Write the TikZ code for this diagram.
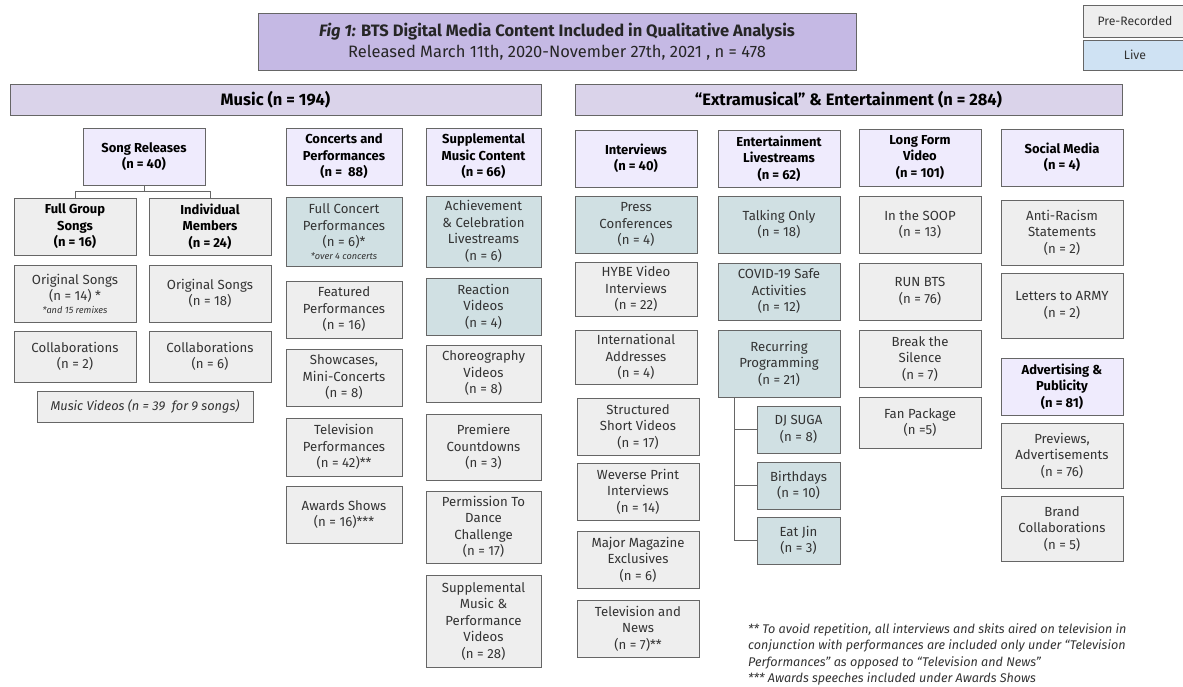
\documentclass[tikz,border=0pt]{standalone}
\usepackage{fontspec}
\setmainfont{Fira Sans}
\usepackage{tikz}
\usetikzlibrary{positioning}

\definecolor{boxline}{HTML}{666666}
\definecolor{txt}{HTML}{333333}
\definecolor{ttlfill}{HTML}{C5B9E4}
\definecolor{barfill}{HTML}{DAD3EA}
\definecolor{hdrfill}{HTML}{EFEBFD}
\definecolor{recfill}{HTML}{EEEEEE}
\definecolor{livefill}{HTML}{D0E0E3}
\definecolor{legfill}{HTML}{CFE2F3}

\tikzset{
  wh/.style 2 args={minimum width=#1, minimum height=#2},
  box/.style={draw=boxline, line width=0.9pt, align=center, inner sep=1pt,
    text=txt, font=\fontsize{13.2}{16.5}\selectfont},
  rec/.style={box, fill=recfill},
  live/.style={box, fill=livefill},
  hdr/.style={box, fill=hdrfill, text=black, font=\bfseries\fontsize{13}{16.5}\selectfont},
  bar/.style={box, fill=barfill, text=black, font=\bfseries\fontsize{16.5}{18}\selectfont},
  ttl/.style={box, fill=ttlfill, text=black!85, font=\fontsize{16.5}{21}\selectfont},
  link/.style={draw=boxline, line width=0.9pt},
}
\newcommand{\note}[1]{\\[-4pt]{\itshape\fontsize{9.2}{10}\selectfont #1}}

\begin{document}
\begin{tikzpicture}[x=1pt,y=-1pt]
  \useasboundingbox (0,0) rectangle (1183,686);

  % title and legend
  \node[ttl, wh={598}{57}] (title) at (557,41.5)
    {{\bfseries\textit{Fig 1:} BTS Digital Media Content Included in Qualitative Analysis}\\
     Released March 11th, 2020-November 27th, 2021 , n = 478};
  \node[rec, wh={104}{32}, font=\fontsize{12.2}{14}\selectfont] (prerec) at (1135,21) {Pre-Recorded};
  \node[box, fill=legfill, wh={104}{30}, font=\fontsize{12.2}{14}\selectfont] (legLive) at (1135,55) {Live};

  \node[bar, wh={531}{31}] (music) at (275.5,99.5) {Music (n = 194)};
  \node[bar, wh={547}{31}] (extra) at (848.5,99.5) {``Extramusical'' \& Entertainment (n = 284)};

  % song releases
  \node[hdr, wh={122}{57}] (songs) at (144,156.5) {Song Releases\\(n = 40)};
  \node[rec, wh={122}{57}, text=black, font=\bfseries\fontsize{13}{16.5}\selectfont] (fullgrp) at (75,226.5) {Full Group\\Songs\\(n = 16)};
  \node[rec, wh={122}{57}, text=black, font=\bfseries\fontsize{13}{16.5}\selectfont] (indiv) at (210,226.5) {Individual\\Members\\(n = 24)};
  \node[rec, wh={122}{57}] (origA) at (75,293.5) {Original Songs\\(n = 14) *\note{*and 15 remixes}};
  \node[rec, wh={122}{57}] (origB) at (210,293.5) {Original Songs\\(n = 18)};
  \node[rec, wh={122}{51}] (collabA) at (75,356.5) {Collaborations\\(n = 2)};
  \node[rec, wh={122}{51}] (collabB) at (210,356.5) {Collaborations\\(n = 6)};
  \node[rec, wh={216}{31}, font=\itshape\fontsize{12.8}{16}\selectfont] (mvids) at (145,406.5) {Music Videos (n = 39~ for 9 songs)};

  \draw[link] (songs.south) -- ++(0,6) coordinate (songsJ);
  \draw[link] (fullgrp.north) |- (songsJ) -| (indiv.north);

  % concerts
  \node[hdr, wh={116}{57}] (concerts) at (344,156.5) {Concerts and\\Performances\\(n = ~88)};
  \node[live, wh={116}{69}] (fullconc) at (344,231.5) {Full Concert\\Performances\\(n = 6)*\note{*over 4 concerts}};
  \node[rec, wh={116}{57}] (featured) at (344,309.5) {Featured\\Performances\\(n = 16)};
  \node[rec, wh={116}{57}] (showcase) at (344,377.5) {Showcases,\\Mini-Concerts\\(n = 8)};
  \node[rec, wh={116}{58}] (tvperf) at (344,447) {Television\\Performances\\(n = 42)**};
  \node[rec, wh={116}{57}] (awards) at (344,514.5) {Awards Shows\\(n = 16)***};

  % supplemental
  \node[hdr, wh={115}{57}] (supp) at (483.5,156.5) {Supplemental\\Music Content\\(n = 66)};
  \node[live, wh={115}{71}] (achieve) at (483.5,231.5) {Achievement\\\& Celebration\\Livestreams\\(n = 6)};
  \node[live, wh={115}{57}] (reaction) at (483.5,306.5) {Reaction\\Videos\\(n = 4)};
  \node[rec, wh={115}{57}] (choreo) at (483.5,373.5) {Choreography\\Videos\\(n = 8)};
  \node[rec, wh={115}{66}] (premiere) at (483.5,447) {Premiere\\Countdowns\\(n = 3)};
  \node[rec, wh={115}{72}] (ptd) at (483.5,527) {Permission To\\Dance\\Challenge\\(n = 17)};
  \node[rec, wh={115}{92}] (suppvid) at (483.5,621) {Supplemental\\Music \&\\Performance\\Videos\\(n = 28)};

  % interviews
  \node[hdr, wh={122}{57}] (interviews) at (636,158.5) {Interviews\\(n = 40)};
  \node[live, wh={122}{57}] (press) at (636,224.5) {Press\\Conferences\\(n = 4)};
  \node[rec, wh={122}{54}] (hybe) at (636,289) {HYBE Video\\Interviews\\(n = 22)};
  \node[rec, wh={122}{54}] (intl) at (636,357) {International\\Addresses\\(n = 4)};
  \node[rec, wh={122}{57}] (short) at (638,426.5) {Structured\\Short Videos\\(n = 17)};
  \node[rec, wh={122}{57}] (weverse) at (638,491.5) {Weverse Print\\Interviews\\(n = 14)};
  \node[rec, wh={122}{57}] (magazine) at (638,559.5) {Major Magazine\\Exclusives\\(n = 6)};
  \node[rec, wh={122}{57}] (tvnews) at (638,628.5) {Television and\\News\\(n = 7)**};

  % livestreams
  \node[hdr, wh={122}{57}] (ent) at (779,158.5) {Entertainment\\Livestreams\\(n = 62)};
  \node[live, wh={122}{57}] (talking) at (779,224.5) {Talking Only\\(n = 18)};
  \node[live, wh={122}{57}] (covid) at (779,291.5) {COVID-19 Safe\\Activities\\(n = 12)};
  \node[live, wh={122}{67}] (recur) at (779,363.5) {Recurring\\Programming\\(n = 21)};
  \node[live, wh={83}{47}] (djsuga) at (798.5,429.5) {DJ SUGA\\(n = 8)};
  \node[live, wh={83}{47}] (bdays) at (798.5,485.5) {Birthdays\\(n = 10)};
  \node[live, wh={83}{47}] (eatjin) at (798.5,540.5) {Eat Jin\\(n = 3)};

  \draw[link] (djsuga.west) -| ([xshift=17pt]recur.south west);
  \draw[link] (bdays.west) -| ([xshift=17pt]recur.south west);
  \draw[link] (eatjin.west) -| ([xshift=17pt]recur.south west);

  % long form
  \node[hdr, wh={122}{57}] (longform) at (920,157.5) {Long Form\\Video\\(n = 101)};
  \node[rec, wh={122}{57}] (soop) at (920,224.5) {In the SOOP\\(n = 13)};
  \node[rec, wh={122}{57}] (runbts) at (920,291.5) {RUN BTS\\(n = 76)};
  \node[rec, wh={122}{57}] (silence) at (920,358.5) {Break the\\Silence\\(n = 7)};
  \node[rec, wh={122}{51}] (fanpack) at (920,422.5) {Fan Package\\(n =5)};

  % social media, advertising
  \node[hdr, wh={122}{57}] (social) at (1062,157.5) {Social Media\\(n = 4)};
  \node[rec, wh={122}{65}] (antiracism) at (1062,232.5) {Anti-Racism\\Statements\\(n = 2)};
  \node[rec, wh={122}{65}] (letters) at (1062,305.5) {Letters to ARMY\\(n = 2)};
  \node[hdr, wh={122}{57}] (advert) at (1062,386.5) {Advertising \&\\Publicity\\(n = 81)};
  \node[rec, wh={122}{65}] (previews) at (1062,455.5) {Previews,\\Advertisements\\(n = 76)};
  \node[rec, wh={122}{65}] (brand) at (1062,528.5) {Brand\\Collaborations\\(n = 5)};

  % footnotes
  \node[anchor=north west, align=left, inner sep=0pt, text=txt,
    font=\itshape\fontsize{12.6}{16.3}\selectfont] (notes) at (748,623.5)
    {** To avoid repetition, all interviews and skits aired on television in\\
     conjunction with performances are included only under ``Television\\
     Performances'' as opposed to ``Television and News''\\
     *** Awards speeches included under Awards Shows};
\end{tikzpicture}
\end{document}
